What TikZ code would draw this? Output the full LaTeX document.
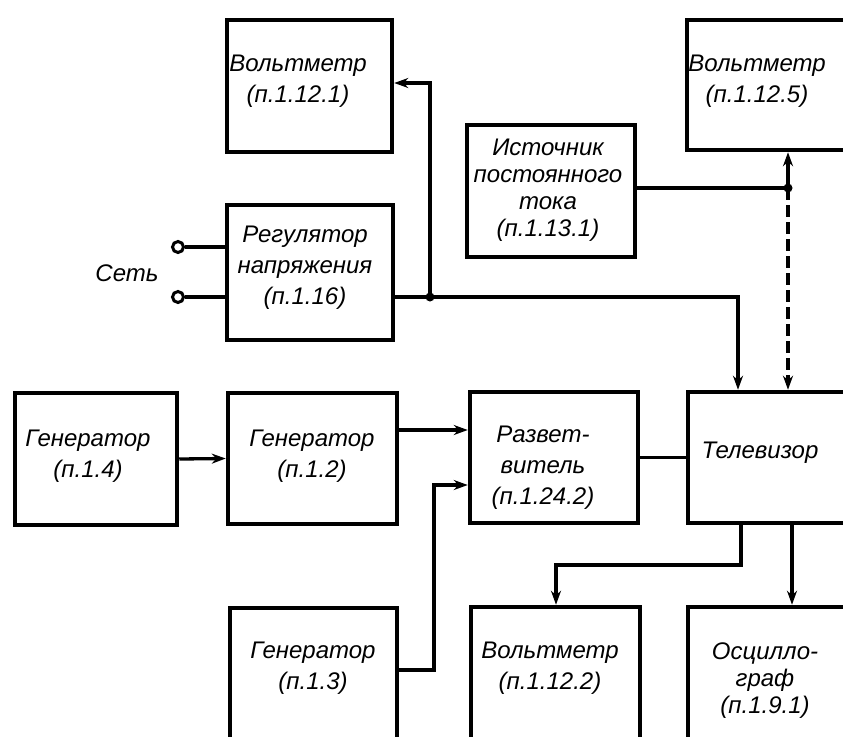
\documentclass[tikz,border=0pt]{standalone}
\usepackage{fontspec}
\setmainfont{Liberation Sans}
\usetikzlibrary{arrows.meta}
\begin{document}
\begin{tikzpicture}[x=1pt,y=-1pt,
  box/.style={draw,line width=4.5pt,rectangle,inner sep=0pt},
  lab/.style={font=\fontsize{24}{31}\selectfont\itshape,align=center,inner sep=0pt},
  wire/.style={line width=3.3pt},
  arr/.style={wire,-{Stealth[length=14pt,width=10pt]}},
  sock/.style={circle,draw,line width=3pt,fill=white,minimum size=11pt,inner sep=0pt},
  dot/.style={circle,fill,minimum size=9pt,inner sep=0pt}]
\useasboundingbox (0,0) rectangle (843,736);
\clip (0,0) rectangle (843,736);
% boxes
\node[box,minimum width=165pt,minimum height=132pt] (v1) at (309.5,86) {};
\node[box,minimum width=166pt,minimum height=135pt] (reg) at (310,272.5) {};
\node[box,minimum width=168pt,minimum height=132pt] (ist) at (551,191) {};
\node[box,minimum width=163pt,minimum height=130pt] (v5) at (768.5,85) {};
\node[box,minimum width=162pt,minimum height=132pt] (g4) at (96,459) {};
\node[box,minimum width=169pt,minimum height=131pt] (g2) at (312.5,458.5) {};
\node[box,minimum width=168pt,minimum height=131pt] (raz) at (554,457.5) {};
\node[box,minimum width=162pt,minimum height=131pt] (tv) at (769,457.5) {};
\node[box,minimum width=167pt,minimum height=137pt] (g3) at (313.5,676.5) {};
\node[box,minimum width=169pt,minimum height=138pt] (v2) at (555.5,676) {};
\node[box,minimum width=162pt,minimum height=138pt] (osc) at (769,676) {};
% labels
\node[lab] (tv1) at (298,81) {Вольтметр\\(п.1.12.1)};
\node[lab] (treg) at (305,268) {Регулятор\\напряжения\\(п.1.16)};
\node[lab] (tset) at (127,273) {Сеть};
\node[lab,font=\fontsize{24}{27}\selectfont\itshape] (tist) at (548,190) {Источник\\постоянного\\тока\\(п.1.13.1)};
\node[lab] (tv5) at (757,81) {Вольтметр\\(п.1.12.5)};
\node[lab] (tg4) at (88,456) {Генератор\\(п.1.4)};
\node[lab] (tg2) at (312,456) {Генератор\\(п.1.2)};
\node[lab] (traz) at (543,468) {Развет-\\витель\\(п.1.24.2)};
\node[lab] (ttv) at (760,453) {Телевизор};
\node[lab] (tg3) at (313,668) {Генератор\\(п.1.3)};
\node[lab] (tv2) at (550,668) {Вольтметр\\(п.1.12.2)};
\node[lab,font=\fontsize{24}{27}\selectfont\itshape] (tosc) at (765,681) {Осцилло-\\граф\\(п.1.9.1)};
% sockets and junctions
\node[sock] (s1) at (178,247) {};
\node[sock] (s2) at (178,297) {};
\node[dot] (j1) at (430,297) {};
\node[dot] (j2) at (788,188) {};
% connectors
\draw[wire] (s1) -- (s1 -| reg.west);
\draw[wire] (s2) -- (s2 -| reg.west);
\draw[wire] (j1 -| reg.east) -- (j1.center);
\draw[arr] (j1.center) |- (v1.east |- 0,83);
\draw[arr] (j1.center) -| (tv.north -| 738,0);
\draw[wire] (j2 -| ist.east) -- (j2.center);
\draw[arr] (j2.center) -- (j2 |- v5.south);
\draw[arr,dash pattern=on 12pt off 5pt] (j2.center) -- (j2 |- tv.north);
\draw[arr] (g4.east) -- (g2.west);
\draw[arr] (g2.east |- 0,430) -- (raz.west |- 0,430);
\draw[arr] (g3.east |- 0,670) -| (434,485) -- (raz.west |- 0,485);
\draw[wire] (raz.east) -- (tv.west);
\draw[arr] (tv.south -| 741,0) |- (556,565) -- (v2.north -| 556,0);
\draw[arr] (tv.south -| 792,0) -- (osc.north -| 792,0);
\end{tikzpicture}
\end{document}
